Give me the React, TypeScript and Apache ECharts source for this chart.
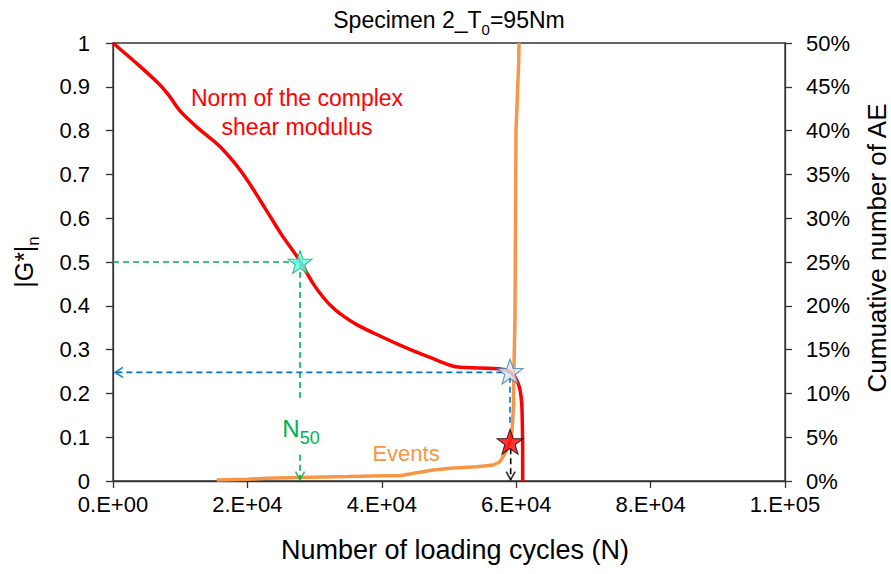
import React, { useEffect, useRef } from "react";
import * as echarts from "echarts";

// ---- data ----
const xTickValues = [0, 20000, 40000, 60000, 80000, 100000];

// Norm of the complex shear modulus |G*|n vs cycles
const modulusCycles = [
  0, 3770, 6740, 8230, 9970, 12700, 15670, 18150, 20140, 22620, 25100, 27580,
  29810, 31300, 32500, 33780, 36260, 39730, 43200, 47170, 50640, 52630, 56590, 58580,
  59570, 60170, 60570, 60820, 60910, 60960, 60960,
];
const modulusValues = [
  1.0, 0.95, 0.908, 0.882, 0.845, 0.805, 0.767, 0.725, 0.683, 0.623, 0.562, 0.508,
  0.45, 0.419, 0.399, 0.382, 0.357, 0.331, 0.307, 0.282, 0.262, 0.259, 0.257, 0.253,
  0.242, 0.227, 0.208, 0.177, 0.132, 0.071, 0.0,
];

// Cumulative number of AE events (percent)
const eventCycles = [
  15430, 20000, 22870, 27830, 35000, 40220, 42700, 45190, 47670, 50150, 54120,
  56600, 57590, 58330, 58830, 59330, 59570, 59670, 59820, 59970, 60170, 60370,
  60420,
];
const eventPercent = [
  0.1, 0.2, 0.3, 0.4, 0.5, 0.6, 0.6, 0.95, 1.25, 1.45, 1.63, 1.83, 2.2, 3.16,
  4.1, 5.06, 8.1, 13, 18.75, 40, 43.9, 47.7, 50,
];

// Annotation points
const n50Point = [27830, 0.5];
const kneePoint = [59080, 0.25];
const aePoint = [59080, 0.0897];

const FONT = "'Liberation Sans', Arial, sans-serif";
const GREEN = "#00b050";
const BLUE = "#0070c0";
const ORANGE = "#f79646";

function starPath(): string {
  const pts: string[] = [];
  for (let i = 0; i < 10; i++) {
    const r = i % 2 === 0 ? 1 : 0.4;
    const a = -Math.PI / 2 + (i * Math.PI) / 5;
    pts.push(`${(r * Math.cos(a)).toFixed(4)},${(r * Math.sin(a)).toFixed(4)}`);
  }
  return "path://M" + pts.join("L") + "Z";
}
const STAR = starPath();
const CHEVRON_DOWN = "path://M0,0L5,8L10,0";
const CHEVRON_LEFT = "path://M8,0L0,5L8,10";

function sciLabel(v: number): string {
  if (v === 0) return "0.E+00";
  const e = Math.floor(Math.log10(v) + 1e-9);
  const m = Math.round(v / Math.pow(10, e));
  return `${m}.E+${String(e).padStart(2, "0")}`;
}

function dashed(data: number[][], color: string) {
  return {
    type: "line",
    data,
    symbol: "none",
    silent: true,
    z: 4,
    lineStyle: { color, width: 1.6, type: [6, 4] },
  };
}

function arrow(point: number[], symbol: string, size: number[], offset: number[], color: string) {
  return {
    type: "scatter",
    data: [point],
    symbol,
    symbolSize: size,
    symbolOffset: offset,
    silent: true,
    z: 5,
    itemStyle: { color: "rgba(0,0,0,0)", borderColor: color, borderWidth: 1.6 },
  };
}

function star(point: number[], fill: string, border: string, size: number[]) {
  return {
    type: "scatter",
    data: [point],
    symbol: STAR,
    symbolSize: size,
    silent: true,
    z: 6,
    itemStyle: { color: fill, borderColor: border, borderWidth: 1 },
  };
}

function subRich(size: number, subSize: number, color: string, lh: number) {
  return {
    a: { fontFamily: FONT, fontSize: size, fill: color, lineHeight: lh, verticalAlign: "top" },
    s: {
      fontFamily: FONT,
      fontSize: subSize,
      fill: color,
      lineHeight: subSize,
      padding: [Math.round(size * 0.55), 0, 0, 0],
      verticalAlign: "top",
    },
  };
}

export default function App() {
  const ref = useRef<HTMLDivElement>(null);

  useEffect(() => {
    if (!ref.current) return;
    const chart = echarts.init(ref.current, undefined, { renderer: "svg" });

    const axisLine = { show: true, lineStyle: { color: "#333", width: 1.3 } };
    const axisTick = { show: true, inside: false, length: 7, lineStyle: { color: "#333", width: 1.3 } };
    const labelBase = { color: "#000", fontFamily: FONT, fontSize: 22 };

    const modulusData = modulusCycles.map((c, i) => [c, modulusValues[i]]);
    const eventData = eventCycles.map((c, i) => [c, eventPercent[i] / 100]);

    chart.setOption({
      animation: false,
      backgroundColor: "#fff",
      grid: {
        left: 113,
        right: 106,
        top: 43,
        bottom: 93,
        show: true,
        borderColor: "#333",
        borderWidth: 1.3,
        backgroundColor: "transparent",
      },
      xAxis: {
        type: "value",
        min: 0,
        max: 100000,
        interval: 20000,
        axisLine,
        axisTick,
        splitLine: { show: false },
        axisLabel: { ...labelBase, margin: 12, formatter: (v: number) => sciLabel(v) },
      },
      yAxis: [
        {
          type: "value",
          min: 0,
          max: 1,
          interval: 0.1,
          axisLine,
          axisTick,
          splitLine: { show: false },
          axisLabel: { ...labelBase, margin: 23 },
        },
        {
          type: "value",
          min: 0,
          max: 0.5,
          interval: 0.05,
          position: "right",
          axisLine,
          axisTick,
          splitLine: { show: false },
          axisLabel: {
            ...labelBase,
            margin: 21,
            formatter: (v: number) => `${Math.round(v * 100)}%`,
          },
        },
      ],
      series: [
        {
          type: "line",
          name: "Events",
          yAxisIndex: 1,
          data: eventData,
          symbol: "none",
          z: 2,
          lineStyle: { color: ORANGE, width: 3.5 },
        },
        {
          type: "line",
          name: "Norm of the complex shear modulus",
          yAxisIndex: 0,
          data: modulusData,
          symbol: "none",
          smooth: 0.3,
          z: 3,
          lineStyle: { color: "#ff0000", width: 3.5 },
        },
        // green N50 guides
        dashed([[0, n50Point[1]], [n50Point[0], n50Point[1]]], GREEN),
        dashed([[n50Point[0], n50Point[1]], [n50Point[0], 0.181]], GREEN),
        dashed([[n50Point[0], 0.06], [n50Point[0], 0.003]], GREEN),
        arrow([n50Point[0], 0.003], CHEVRON_DOWN, [9, 8], [0, -4], GREEN),
        // blue knee guides
        dashed([[500, 0.248], [kneePoint[0], 0.248]], BLUE),
        dashed([[kneePoint[0], 0.238], [kneePoint[0], 0.124]], BLUE),
        arrow([0, 0.248], CHEVRON_LEFT, [8, 10], [6, 0], BLUE),
        // black AE guide
        dashed([[59180, 0.075], [59180, 0.003]], "#000"),
        arrow([59180, 0.003], CHEVRON_DOWN, [9, 8], [0, -4], "#000"),
        // stars
        star(n50Point, "#5ffff2", GREEN, [24, 23]),
        star(kneePoint, "#dde5ee", "#2e75b6", [26, 25]),
        star(aePoint, "#ff0000", "#000", [26, 25]),
      ],
      graphic: [
        {
          type: "text",
          x: 449,
          y: 21,
          style: {
            text: "{a|Specimen 2_T}{s|0}{a|=95Nm}",
            align: "center",
            verticalAlign: "middle",
            rich: subRich(23, 15, "#000", 25),
          },
        },
        {
          type: "text",
          x: 455,
          y: 550,
          style: {
            text: "Number of loading cycles (N)",
            font: `27px ${FONT}`,
            fill: "#000",
            align: "center",
            verticalAlign: "middle",
          },
        },
        {
          type: "text",
          x: 25,
          y: 262,
          rotation: Math.PI / 2,
          style: {
            text: "{a||G*|}{s|n}",
            align: "center",
            verticalAlign: "middle",
            rich: subRich(25, 17, "#000", 28),
          },
        },
        {
          type: "text",
          x: 877,
          y: 248,
          rotation: Math.PI / 2,
          style: {
            text: "Cumuative number of AE",
            font: `26px ${FONT}`,
            fill: "#000",
            align: "center",
            verticalAlign: "middle",
          },
        },
        {
          type: "text",
          x: 297,
          y: 112,
          style: {
            text: "Norm of the complex\nshear modulus",
            font: `23px ${FONT}`,
            fill: "#ff0000",
            align: "center",
            verticalAlign: "middle",
            lineHeight: 29,
          },
        },
        {
          type: "text",
          x: 406,
          y: 453,
          style: {
            text: "Events",
            font: `22px ${FONT}`,
            fill: ORANGE,
            align: "center",
            verticalAlign: "middle",
          },
        },
        {
          type: "text",
          x: 301,
          y: 429,
          style: {
            text: "{a|N}{s|50}",
            align: "center",
            verticalAlign: "middle",
            rich: subRich(24, 18, GREEN, 26),
          },
        },
      ],
    });

    return () => chart.dispose();
  }, []);

  return (
    <div
      ref={ref}
      style={{ position: "fixed", left: 0, top: 0, width: 891, height: 574, background: "#fff" }}
    />
  );
}
